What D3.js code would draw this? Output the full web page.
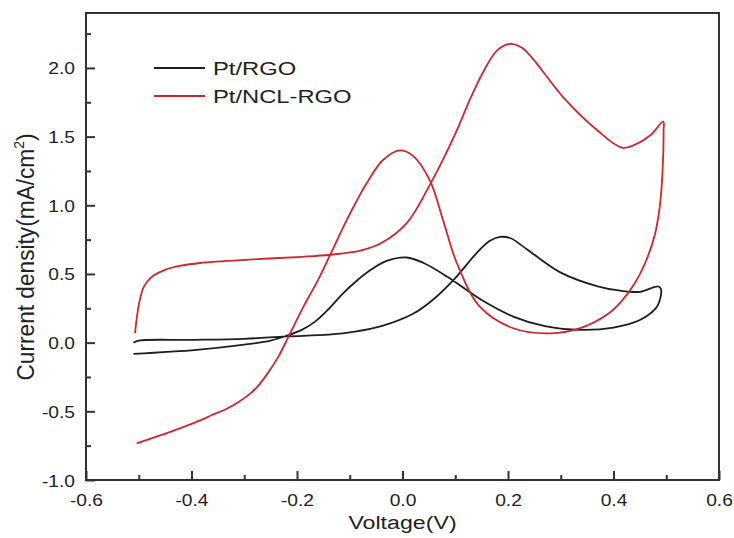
<!doctype html>
<html>
<head>
<meta charset="UTF-8">
<title>CV curves</title>
<script src="https://d3js.org/d3.v7.min.js"></script>
<style>
	body {
		margin: 0;
		background: #fff;
	}
	.chart text {
		font-family: 'Liberation Sans', Arial, sans-serif;
		fill: #222;
	}
	.frame {
		fill: none;
		stroke: #333;
		stroke-width: 2;
	}
	.tick line {
		stroke: #333;
		stroke-width: 2;
	}
	.cv {
		fill: none;
		stroke-width: 1.8;
		stroke-linejoin: round;
	}
</style>
</head>

<body>
	<svg class="chart" width="734" height="538"></svg>
<script>
// [voltage (V), current density (mA/cm2)]
var rgoAnodic = [[-0.51, 0.00], [-0.50, 0.015], [-0.40, 0.02], [-0.30, 0.028], [-0.22, 0.045],
	[-0.14, 0.058], [-0.09, 0.08], [-0.04, 0.12], [0.02, 0.21], [0.06, 0.32], [0.10, 0.47],
	[0.14, 0.65], [0.165, 0.74], [0.185, 0.77], [0.205, 0.76], [0.225, 0.71], [0.25, 0.64],
	[0.30, 0.51], [0.37, 0.41], [0.41, 0.38], [0.45, 0.37], [0.485, 0.41]];
var rgoCathodic = [[0.49, 0.39], [0.487, 0.30], [0.48, 0.25], [0.45, 0.165], [0.40, 0.11],
	[0.34, 0.093], [0.27, 0.12], [0.21, 0.19], [0.15, 0.31], [0.085, 0.48], [0.04, 0.58],
	[0.008, 0.62], [-0.03, 0.595], [-0.06, 0.53], [-0.09, 0.44], [-0.115, 0.35], [-0.14, 0.245],
	[-0.165, 0.155], [-0.19, 0.095], [-0.22, 0.05], [-0.25, 0.015], [-0.30, -0.015],
	[-0.39, -0.053], [-0.51, -0.082]];
var nclAnodic = [[-0.507, 0.07], [-0.503, 0.20], [-0.498, 0.31], [-0.49, 0.41], [-0.475, 0.48],
	[-0.45, 0.53], [-0.42, 0.56], [-0.384, 0.58], [-0.29, 0.605], [-0.19, 0.625], [-0.137, 0.64],
	[-0.08, 0.67], [-0.04, 0.725], [0.008, 0.87], [0.052, 1.15], [0.10, 1.52], [0.13, 1.79],
	[0.16, 2.02], [0.18, 2.13], [0.204, 2.175], [0.225, 2.15], [0.242, 2.09], [0.261, 2.00],
	[0.304, 1.79], [0.368, 1.55], [0.4155, 1.42], [0.44, 1.44], [0.47, 1.51], [0.4945, 1.61]];
var nclCathodic = [[0.495, 1.55], [0.493, 1.25], [0.488, 1.00], [0.478, 0.78], [0.46, 0.58],
	[0.44, 0.43], [0.415, 0.30], [0.39, 0.21], [0.34, 0.11], [0.28, 0.068], [0.21, 0.105],
	[0.147, 0.26], [0.103, 0.58], [0.077, 0.89], [0.052, 1.18], [0.02, 1.36], [-0.005, 1.40],
	[-0.037, 1.33], [-0.068, 1.16], [-0.106, 0.89], [-0.137, 0.64], [-0.16, 0.457],
	[-0.188, 0.26], [-0.216, 0.044], [-0.235, -0.10], [-0.255, -0.22], [-0.275, -0.32],
	[-0.29, -0.375], [-0.31, -0.43], [-0.335, -0.485], [-0.36, -0.525], [-0.38, -0.56],
	[-0.43, -0.635], [-0.504, -0.733]];

var seriesNames = ['Pt/RGO', 'Pt/NCL-RGO'];
var seriesColors = ['#1e1e1e', '#d0262d'];
var xTicks = [-0.6, -0.4, -0.2, 0.0, 0.2, 0.4, 0.6];
var yTicks = [-1.0, -0.5, 0.0, 0.5, 1.0, 1.5, 2.0];

var chart = d3.select('.chart');
var margin = {top: 13, right: 15, bottom: 58, left: 86};
var width = +chart.attr('width') - margin.left - margin.right;
var height = +chart.attr('height') - margin.top - margin.bottom;

var x = d3.scaleLinear().domain([-0.6, 0.6]).range([0, width]);
var y = d3.scaleLinear().domain([-1.0, 2.4]).range([height, 0]);

var fmt = function(d) {
	return d3.format('.1f')(d).replace('\u2212', '-');
};

var g = chart.append('g')
	.attr('transform', 'translate(' + margin.left + ',' + margin.top + ')');

// minor ticks
var xMinor = d3.range(-0.5, 0.6, 0.2);
var yMinor = d3.range(-0.75, 2.3, 0.5);

g.append('g')
	.attr('transform', 'translate(0,' + height + ')')
	.call(d3.axisBottom(x).tickValues(xMinor).tickSize(-5).tickFormat(''))
	.call(function(s) { s.select('.domain').remove(); });
g.append('g')
	.call(d3.axisLeft(y).tickValues(yMinor).tickSize(-5).tickFormat(''))
	.call(function(s) { s.select('.domain').remove(); });

var xAxis = g.append('g')
	.attr('transform', 'translate(0,' + height + ')')
	.call(d3.axisBottom(x).tickValues(xTicks).tickSize(-9).tickFormat(''));
xAxis.select('.domain').remove();
xAxis.selectAll('.tick').append('text')
	.attr('transform', 'translate(0,26) scale(1.2,1)')
	.attr('text-anchor', 'middle')
	.style('font-size', '16px')
	.text(fmt);

var yAxis = g.append('g')
	.call(d3.axisLeft(y).tickValues(yTicks).tickSize(-9).tickFormat(''));
yAxis.select('.domain').remove();
yAxis.selectAll('.tick').append('text')
	.attr('transform', 'translate(-11,6) scale(1.2,1)')
	.attr('text-anchor', 'end')
	.style('font-size', '16px')
	.text(fmt);

g.append('rect')
	.attr('class', 'frame')
	.attr('width', width)
	.attr('height', height);

var line = d3.line()
	.x(function(d) { return x(d[0]); })
	.y(function(d) { return y(d[1]); })
	.curve(d3.curveCatmullRom.alpha(0.5));

var curves = [rgoAnodic.concat(rgoCathodic), nclAnodic.concat(nclCathodic)];
g.selectAll('.cv')
	.data(curves)
	.enter()
	.append('path')
	.attr('class', 'cv')
	.attr('stroke', function(d, i) { return seriesColors[i]; })
	.attr('d', line);

// legend
var legend = g.selectAll('.legend')
	.data(seriesNames)
	.enter()
	.append('g')
	.attr('class', 'legend')
	.attr('transform', function(d, i) {
		return 'translate(' + 68 + ',' + (55 + i * 28) + ')';
	});
legend.append('line')
	.attr('x1', 0)
	.attr('x2', 51)
	.attr('stroke', function(d, i) { return seriesColors[i]; })
	.attr('stroke-width', 1.8);
legend.append('text')
	.attr('transform', 'translate(59,7) scale(1.25,1)')
	.style('font-size', '19px')
	.text(function(d) { return d; });

// axis titles
chart.append('text')
	.attr('transform', 'translate(' + (margin.left + width / 2) + ',529) scale(1.22,1)')
	.attr('text-anchor', 'middle')
	.style('font-size', '19px')
	.text('Voltage(V)');

var yTitle = chart.append('text')
	.attr('transform', 'translate(34,257) rotate(-90) scale(1.08,1.15)')
	.attr('text-anchor', 'middle')
	.style('font-size', '21px');
yTitle.append('tspan').text('Current density(mA/cm');
yTitle.append('tspan').attr('dy', -9).style('font-size', '13px').text('2');
yTitle.append('tspan').attr('dy', 9).text(')');
</script>
</body>
</html>
